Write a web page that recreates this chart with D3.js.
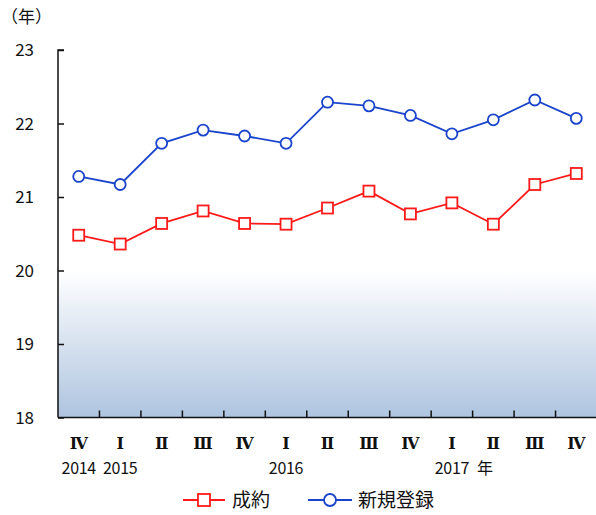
<!DOCTYPE html>
<html>
<head>
<meta charset="utf-8">
<script src="https://cdn.jsdelivr.net/npm/d3@7"></script>
<style>
  body { margin: 0; background: #fff; }
  svg text { font-family: "Noto Sans CJK JP", "DejaVu Sans", sans-serif; fill: #111; }
  svg text.roman { font-family: "DejaVu Serif", "Liberation Serif", serif; }
</style>
</head>
<body>
<div id="chart"></div>
<script>
const quarters = ["Ⅳ", "Ⅰ", "Ⅱ", "Ⅲ", "Ⅳ", "Ⅰ", "Ⅱ", "Ⅲ", "Ⅳ", "Ⅰ", "Ⅱ", "Ⅲ", "Ⅳ"];
const years = ["2014", "2015", "", "", "", "2016", "", "", "", "2017", "", "", ""];
const contracts = [20.48, 20.36, 20.64, 20.81, 20.64, 20.63, 20.85, 21.08, 20.77, 20.92, 20.63, 21.17, 21.32];
const registrations = [21.28, 21.17, 21.73, 21.91, 21.83, 21.73, 22.29, 22.24, 22.11, 21.86, 22.05, 22.32, 22.07];
const yTicks = [18, 19, 20, 21, 22, 23];

const width = 596, height = 515;
const margin = { top: 50, right: 0, bottom: 98, left: 58 };

const svg = d3.select("#chart").append("svg")
  .attr("width", width)
  .attr("height", height);

const idx = d3.range(quarters.length);

const x = d3.scaleBand()
  .domain(idx)
  .range([margin.left, 597]);

const y = d3.scaleLinear()
  .domain([18, 23])
  .range([height - margin.bottom + 0.5, margin.top]);

// background gradient below 20
const grad = svg.append("defs").append("linearGradient")
  .attr("id", "bg")
  .attr("x1", 0).attr("y1", 0).attr("x2", 0).attr("y2", 1);
grad.append("stop").attr("offset", "0%").attr("stop-color", "#ffffff");
grad.append("stop").attr("offset", "100%").attr("stop-color", "#aec4e0");

svg.append("rect")
  .attr("x", margin.left)
  .attr("y", y(20))
  .attr("width", x.range()[1] - margin.left)
  .attr("height", y(18) - y(20))
  .attr("fill", "url(#bg)");

// y axis
const yAxis = svg.append("g")
  .attr("transform", `translate(${margin.left},0)`)
  .call(d3.axisRight(y).tickValues(yTicks).tickSize(6).tickFormat(""));
yAxis.select(".domain").attr("stroke", "#111").attr("stroke-width", 1.5)
  .attr("d", `M${6},${y(23)}H0V${y(18)}`);
yAxis.selectAll(".tick line").attr("stroke", "#111").attr("stroke-width", 1.5);

svg.append("g").selectAll("text")
  .data(yTicks)
  .join("text")
  .attr("x", 34)
  .attr("y", d => y(d))
  .attr("dy", "0.36em")
  .attr("text-anchor", "end")
  .attr("font-size", 17)
  .text(d => d);

svg.append("text")
  .attr("x", 1)
  .attr("y", 23)
  .attr("font-size", 17)
  .text("（年）");

// x axis
const xAxis = svg.append("g")
  .attr("transform", `translate(0,${y(18)})`)
  .call(d3.axisTop(x).tickSize(0).tickFormat(""));
xAxis.select(".domain").attr("stroke", "#111").attr("stroke-width", 1.5)
  .attr("d", `M${margin.left},0H${x.range()[1]}`);

svg.append("g").selectAll("line")
  .data(idx.slice(1))
  .join("line")
  .attr("x1", d => x(d))
  .attr("x2", d => x(d))
  .attr("y1", y(18))
  .attr("y2", y(18) - 7)
  .attr("stroke", "#111")
  .attr("stroke-width", 1.5);

svg.append("g").selectAll("text")
  .data(idx)
  .join("text")
  .attr("class", "roman")
  .attr("x", d => x(d) + x.bandwidth() / 2)
  .attr("y", 443)
  .attr("dy", "0.36em")
  .attr("text-anchor", "middle")
  .attr("font-size", 16)
  .attr("font-weight", "bold")
  .text(d => quarters[d]);

svg.append("g").selectAll("text")
  .data(idx.filter(i => years[i]))
  .join("text")
  .attr("x", d => x(d) + x.bandwidth() / 2)
  .attr("y", 468)
  .attr("dy", "0.36em")
  .attr("text-anchor", "middle")
  .attr("font-size", 16)
  .attr("letter-spacing", -0.3)
  .text(d => years[d]);

svg.append("text")
  .attr("x", x(9) + x.bandwidth() / 2 + 25)
  .attr("y", 468)
  .attr("dy", "0.36em")
  .attr("font-size", 16)
  .text("年");

// lines
const cx = i => x(i) + x.bandwidth() / 2;
const line = d3.line().x((d, i) => cx(i)).y(d => y(d));

svg.append("path")
  .datum(registrations)
  .attr("fill", "none")
  .attr("stroke", "#1a44cc")
  .attr("stroke-width", 1.8)
  .attr("d", line);

svg.append("g").selectAll("circle")
  .data(registrations)
  .join("circle")
  .attr("cx", (d, i) => cx(i))
  .attr("cy", d => y(d))
  .attr("r", 5.5)
  .attr("fill", "#fff")
  .attr("stroke", "#1a44cc")
  .attr("stroke-width", 1.8);

svg.append("path")
  .datum(contracts)
  .attr("fill", "none")
  .attr("stroke", "#ff1a1a")
  .attr("stroke-width", 1.8)
  .attr("d", line);

svg.append("g").selectAll("rect")
  .data(contracts)
  .join("rect")
  .attr("x", (d, i) => cx(i) - 5.5)
  .attr("y", d => y(d) - 5.5)
  .attr("width", 11)
  .attr("height", 11)
  .attr("fill", "#fff")
  .attr("stroke", "#ff1a1a")
  .attr("stroke-width", 1.8);

// legend
const leg = svg.append("g").attr("transform", "translate(0,500)");
leg.append("line").attr("x1", 183).attr("x2", 225).attr("stroke", "#ff1a1a").attr("stroke-width", 1.8);
leg.append("rect").attr("x", 198).attr("y", -6).attr("width", 12).attr("height", 12)
  .attr("fill", "#fff").attr("stroke", "#ff1a1a").attr("stroke-width", 1.8);
leg.append("text").attr("x", 232).attr("dy", "0.36em").attr("font-size", 19).text("成約");

leg.append("line").attr("x1", 308).attr("x2", 352).attr("stroke", "#1a44cc").attr("stroke-width", 1.8);
leg.append("circle").attr("cx", 330).attr("r", 6)
  .attr("fill", "#fff").attr("stroke", "#1a44cc").attr("stroke-width", 1.8);
leg.append("text").attr("x", 358).attr("dy", "0.36em").attr("font-size", 19).text("新規登録");
</script>
</body>
</html>
